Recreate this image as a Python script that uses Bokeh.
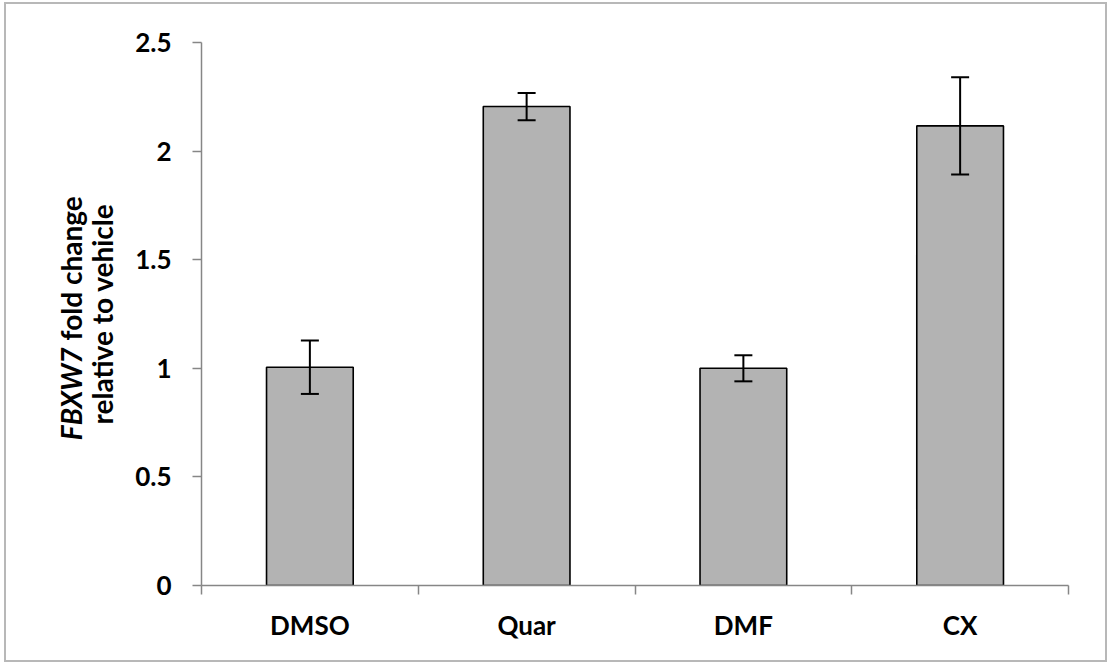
import math
from bokeh.plotting import figure
from bokeh.layouts import row
from bokeh.models import (ColumnDataSource, Range1d, LinearAxis,
                          FixedTicker, Whisker, TeeHead)
from bokeh.core.properties import value
from bokeh.embed import file_html
from bokeh.resources import INLINE

# ---- data ----
categories = ["DMSO", "Quar", "DMF", "CX"]
fold_change = [1.005, 2.205, 1.000, 2.116]
error = [0.123, 0.063, 0.060, 0.224]
ytick_values = [0, 0.5, 1, 1.5, 2, 2.5]
ytick_labels = ["0", "0.5", "1", "1.5", "2", "2.5"]
title_parts = ["FBXW7", "fold change", "relative to vehicle"]

FONT = "Lato"
FS = "26px"
TFS = "28px"
AXIS_GRAY = "#868686"
H = 656
TOP, BOTTOM = 38, 75
TITLE_W = 125

# category slots on a numeric axis: slot i spans [i, i+1], centre i+0.5
centres = [i + 0.5 for i in range(len(categories))]
boundaries = list(range(len(categories) + 1))

src = ColumnDataSource(dict(
    x=centres,
    val=fold_change,
    upper=[v + e for v, e in zip(fold_change, error)],
    lower=[v - e for v, e in zip(fold_change, error)],
))

# ---- narrow panel holding the rotated y-axis title ----
t = figure(x_range=Range1d(0, TITLE_W), y_range=Range1d(0, 2.5),
           width=TITLE_W, height=H,
           min_border_left=0, min_border_right=0,
           min_border_top=TOP, min_border_bottom=BOTTOM,
           output_backend="svg", toolbar_location=None,
           x_axis_location=None, y_axis_location=None)
t.outline_line_color = None
t.xgrid.visible = False
t.ygrid.visible = False
ang = math.pi / 2
t.text(x=[64], y=[1.096], text=[title_parts[0]], angle=ang,
       text_align="right", text_baseline="alphabetic",
       text_font=value(FONT), text_font_size=value(TFS),
       text_font_style=value("bold italic"), text_color="black")
t.text(x=[64], y=[1.128], text=[title_parts[1]], angle=ang,
       text_align="left", text_baseline="alphabetic",
       text_font=value(FONT), text_font_size=value(TFS),
       text_font_style=value("bold"), text_color="black")
t.text(x=[95], y=[1.25], text=[title_parts[2]], angle=ang,
       text_align="center", text_baseline="alphabetic",
       text_font=value(FONT), text_font_size=value(TFS),
       text_font_style=value("bold"), text_color="black")

# ---- main chart ----
p = figure(x_range=Range1d(0, len(categories)),
           y_range=Range1d(0, 2.5),
           width=1099 - TITLE_W, height=H,
           min_border_left=195 - TITLE_W, min_border_right=37,
           min_border_top=TOP, min_border_bottom=BOTTOM,
           output_backend="svg", toolbar_location=None,
           x_axis_location=None, y_axis_location=None)
p.outline_line_color = None
p.xgrid.visible = False
p.ygrid.visible = False

p.vbar(x="x", top="val", width=0.4, source=src,
       fill_color="#b3b3b3", line_color="black", line_width=1.6)

wh = Whisker(base="x", upper="upper", lower="lower", source=src,
             line_color="black", line_width=2, level="overlay",
             upper_head=TeeHead(size=18, line_color="black", line_width=2),
             lower_head=TeeHead(size=18, line_color="black", line_width=2))
p.add_layout(wh)

yax = LinearAxis(ticker=FixedTicker(ticks=ytick_values),
                 major_label_overrides={v: l for v, l in zip(ytick_values, ytick_labels)},
                 axis_line_color=AXIS_GRAY, axis_line_width=1.5,
                 major_tick_line_color=AXIS_GRAY, major_tick_line_width=1.5,
                 major_tick_out=9, major_tick_in=0,
                 minor_tick_line_color=None,
                 major_label_standoff=21,
                 major_label_text_font=FONT, major_label_text_font_size=FS,
                 major_label_text_font_style="bold", major_label_text_color="black")
p.add_layout(yax, "left")

xax = LinearAxis(ticker=FixedTicker(ticks=centres, minor_ticks=boundaries),
                 major_label_overrides={c: n for c, n in zip(centres, categories)},
                 axis_line_color=AXIS_GRAY, axis_line_width=1.5,
                 major_tick_line_color=None, major_tick_out=0, major_tick_in=0,
                 minor_tick_line_color=AXIS_GRAY, minor_tick_line_width=1.5,
                 minor_tick_out=9, minor_tick_in=0,
                 major_label_standoff=14,
                 major_label_text_font=FONT, major_label_text_font_size=FS,
                 major_label_text_font_style="bold", major_label_text_color="black")
p.add_layout(xax, "below")

layout = row(t, p, spacing=0)
layout.styles = {"margin-left": "4px", "margin-top": "2px", "margin-bottom": "-12px",
                 "border": "2px solid #b8b8b8", "background-color": "white"}

open("out.html", "w").write(file_html(layout, INLINE))
